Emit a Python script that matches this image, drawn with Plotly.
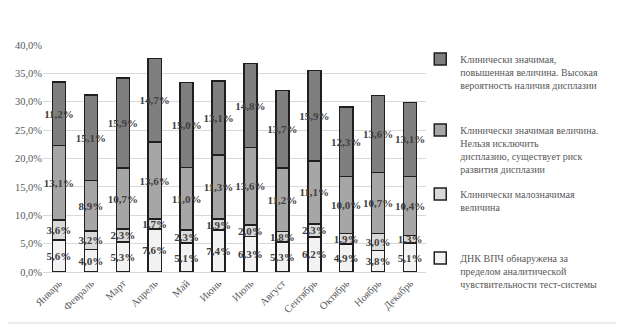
import plotly.graph_objects as go

months = ["Январь", "Февраль", "Март", "Апрель", "Май", "Июнь", "Июль",
          "Август", "Сентябрь", "Октябрь", "Ноябрь", "Декабрь"]

s_below = [5.6, 4.0, 5.3, 7.6, 5.1, 7.4, 6.3, 5.3, 6.2, 4.9, 3.8, 5.1]
s_low = [3.6, 3.2, 2.3, 1.7, 2.3, 1.9, 2.0, 1.8, 2.3, 1.9, 3.0, 1.3]
s_sig = [13.1, 8.9, 10.7, 13.6, 11.0, 11.3, 13.6, 11.2, 11.1, 10.0, 10.7, 10.4]
s_high = [11.2, 15.1, 15.9, 14.7, 15.0, 13.1, 14.8, 13.7, 15.9, 12.3, 13.6, 13.1]

names = [
    "ДНК ВПЧ обнаружена за<br>пределом аналитической<br>чувствительности тест-системы",
    "Клинически малозначимая<br>величина",
    "Клинически значимая величина.<br>Нельзя исключить<br>дисплазию, существует риск<br>развития дисплазии",
    "Клинически значимая,<br>повышенная величина. Высокая<br>вероятность наличия дисплазии",
]
series = [s_below, s_low, s_sig, s_high]
colors = ["#f2f2f2", "#d9d9d9", "#a6a6a6", "#7f7f7f"]
legend_ids = ["legend4", "legend3", "legend2", "legend"]
legend_y = [0.119, 0.401, 0.683, 0.996]

FONT = "Liberation Serif"

fig = go.Figure()
for name, vals, col, lid in zip(names, series, colors, legend_ids):
    fig.add_trace(go.Bar(
        x=months, y=vals, name=name, legend=lid, showlegend=True,
        marker=dict(color=col, line=dict(color="#1f1f1f", width=1.5)),
        texttemplate="%{y:.1f}%", textposition="inside", textangle=0,
        constraintext="none", insidetextanchor="middle",
        textfont=dict(family=FONT, size=11, color="#404040", weight="bold"),
    ))

def leg(y):
    return dict(x=0.985, y=y, xanchor="left", yanchor="top", valign="top",
                font=dict(family=FONT, size=10, color="#595959"),
                bgcolor="rgba(0,0,0,0)", borderwidth=0, itemwidth=30, visible=True)

fig.update_layout(
    showlegend=True,
    barmode="stack",
    bargap=0.59,
    width=616, height=319,
    margin=dict(l=35, r=198, t=37, b=55),
    paper_bgcolor="white", plot_bgcolor="white",
    separators=", ",
    font=dict(family=FONT, size=10.5, color="#595959"),
    legend=leg(legend_y[3]),
    legend2=leg(legend_y[2]),
    legend3=leg(legend_y[1]),
    legend4=leg(legend_y[0]),
    xaxis=dict(tickangle=-45, showline=True, linecolor="#d9d9d9", linewidth=1,
               automargin=False,
               ticks="", tickfont=dict(family=FONT, size=10.5, color="#595959")),
    yaxis=dict(range=[0, 40], dtick=5, tickformat=".1f", ticksuffix="%",
               automargin=False,
               showgrid=True, gridcolor="#d9d9d9", gridwidth=1, zeroline=False,
               ticks="", tickfont=dict(family=FONT, size=10.5, color="#595959")),
    shapes=[
        dict(type="line", xref="paper", yref="paper",
             x0=-0.0914, x1=1.5065, y0=-0.2247, y1=-0.2247,
             line=dict(color="#d9d9d9", width=1)),
        dict(type="line", xref="paper", yref="paper",
             x0=1.5065, x1=1.5065, y0=-0.2247, y1=1.2,
             line=dict(color="#d9d9d9", width=1)),
    ],
)

fig.write_html("out.html")
